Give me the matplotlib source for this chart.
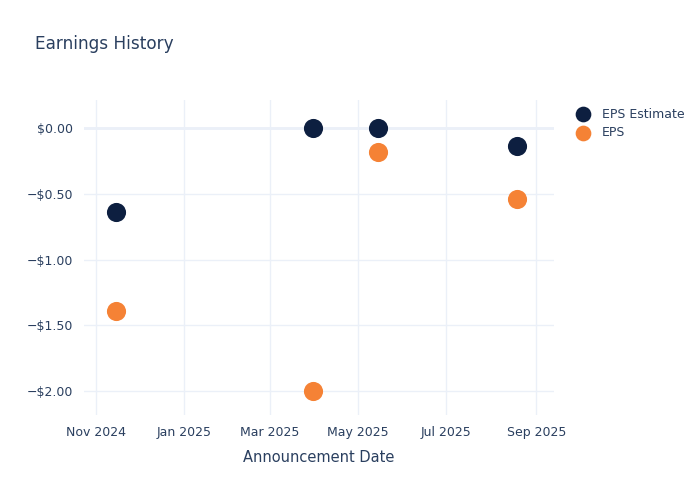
import pandas as pd
import matplotlib.pyplot as plt
import matplotlib.dates as mdates
from matplotlib.ticker import FuncFormatter

# dados
datas = pd.to_datetime(['2024-11-15', '2025-03-31', '2025-05-15', '2025-08-19'])
eps_estimate = [-0.64, 0.00, 0.00, -0.14]
eps_real = [-1.39, -2.00, -0.18, -0.54]

cor_texto = '#2a3f5f'
cor_grade = '#ebf0f8'

fig = plt.figure(figsize=(7, 5), dpi=100)
ax = fig.add_axes([0.12, 0.17, 0.671, 0.63])

ax.scatter(datas, eps_estimate, s=190, color='#0d1f40', label='EPS Estimate', zorder=3, linewidths=0)
ax.scatter(datas, eps_real, s=190, color='#f58235', label='EPS', zorder=3, linewidths=0)

ax.set_xlim(pd.Timestamp('2024-10-24'), pd.Timestamp('2025-09-13'))
ax.set_ylim(-2.18, 0.213)

ax.xaxis.set_major_locator(mdates.MonthLocator(bymonth=[1, 3, 5, 7, 9, 11]))
ax.xaxis.set_major_formatter(mdates.DateFormatter('%b %Y'))
ax.set_yticks([0, -0.5, -1.0, -1.5, -2.0])
ax.yaxis.set_major_formatter(FuncFormatter(
    lambda v, p: ('\u2212$%.2f' % abs(v)) if v < -1e-9 else '$%.2f' % abs(v)))

ax.grid(True, color=cor_grade, linewidth=1, zorder=0)
ax.axhline(0, color=cor_grade, linewidth=2, zorder=1)
for lado in ax.spines.values():
    lado.set_visible(False)
ax.tick_params(length=0, labelsize=9, labelcolor=cor_texto, pad=8)

ax.set_xlabel('Announcement Date', fontsize=10.5, color=cor_texto, labelpad=8)
fig.text(0.05, 0.912, 'Earnings History', fontsize=12.2, color=cor_texto, va='center')

ax.legend(loc='upper left', bbox_to_anchor=(1.025, 0.992), frameon=False,
          fontsize=9, labelcolor=cor_texto, markerscale=0.82,
          handletextpad=0.5, labelspacing=0.45, borderaxespad=0)

fig.savefig('out.png', dpi=100)
